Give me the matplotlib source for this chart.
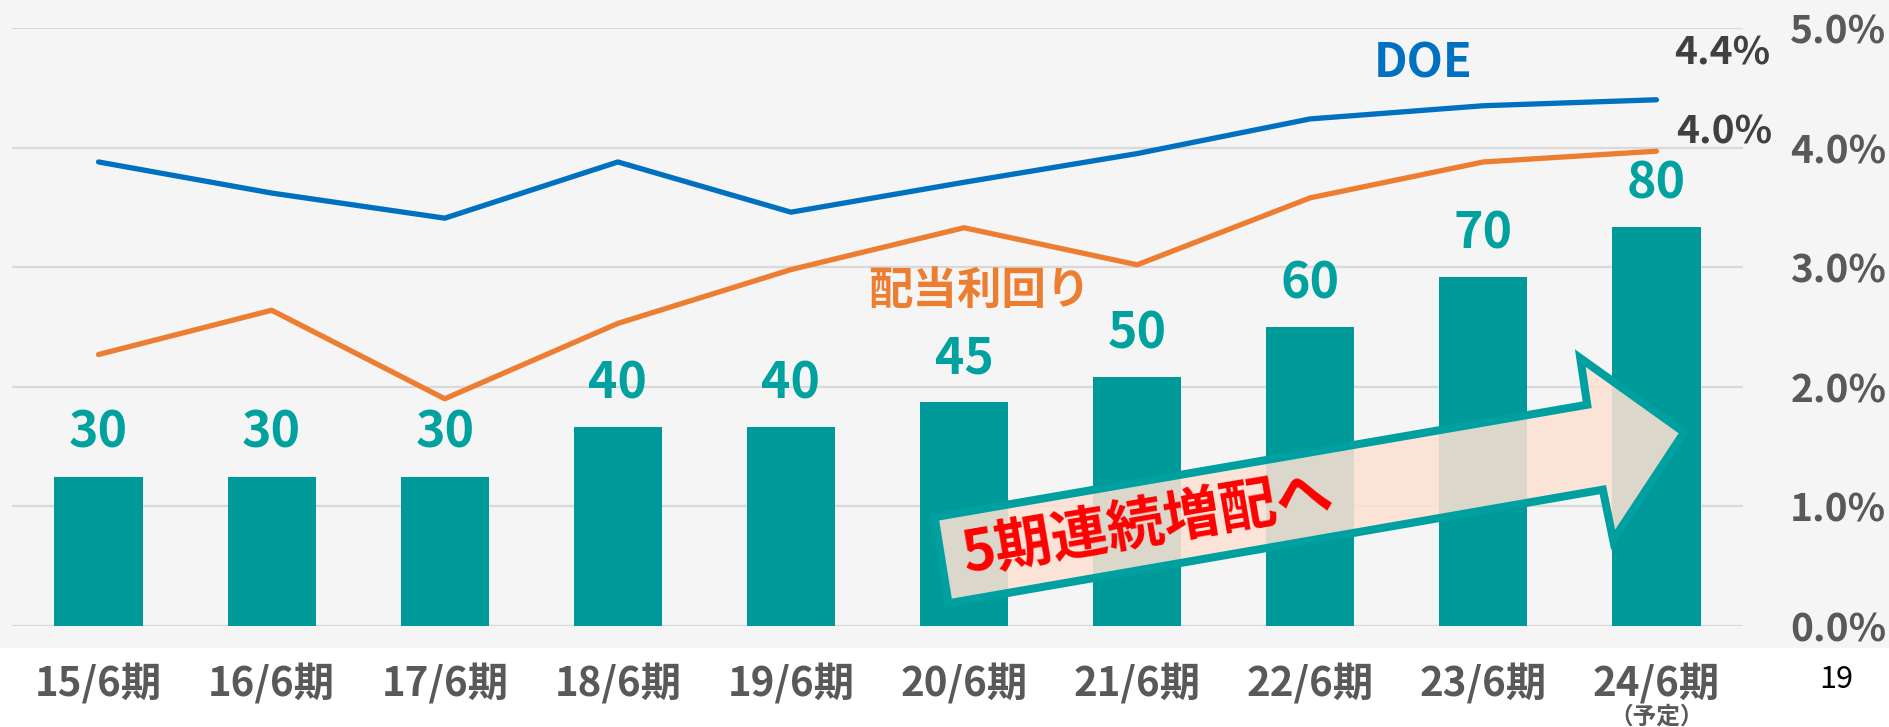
import matplotlib
matplotlib.use("Agg")
import matplotlib.pyplot as plt
import matplotlib.transforms as mtransforms
from matplotlib.patches import Polygon, Rectangle
import numpy as np

plt.rcParams['font.family'] = ['Noto Sans CJK JP', 'DejaVu Sans']

# data
periods = ['15/6期', '16/6期', '17/6期', '18/6期', '19/6期',
           '20/6期', '21/6期', '22/6期', '23/6期', '24/6期']
dividend = [30, 30, 30, 40, 40, 45, 50, 60, 70, 80]            # yen per share
doe = [3.88, 3.62, 3.41, 3.88, 3.46, 3.71, 3.95, 4.24, 4.35, 4.40]      # %
div_yield = [2.27, 2.64, 1.90, 2.53, 2.98, 3.33, 3.02, 3.58, 3.88, 3.97]  # %
pct_ticks = [0, 1, 2, 3, 4, 5]

W, H = 1889, 727
fig = plt.figure(figsize=(W / 100, H / 100), dpi=100)
fig.patch.set_facecolor('white')

# light grey panel behind the chart
fig.add_artist(Rectangle((0, 1 - 648 / H), 1, 648 / H, transform=fig.transFigure,
                         facecolor='#f5f5f5', edgecolor='none', zorder=0))

ax = fig.add_axes([12 / W, 1 - 626 / H, (1743 - 12) / W, (626 - 28) / H])
ax.set_facecolor('none')
x = np.arange(len(periods))

# bars (left scale, hidden)
ax.bar(x, dividend, width=0.51, color='#009999', zorder=2)
ax.set_xlim(-0.5, 9.5)
ax.set_ylim(0, 120)
ax.set_yticks(np.arange(0, 121, 24))
ax.grid(axis='y', color='#d9d9d9', linewidth=1.6)
ax.set_axisbelow(True)
ax.tick_params(axis='y', left=False, right=False, labelleft=False, length=0)
ax.set_xticks(x)
ax.set_xticklabels(periods, fontsize=29, fontweight='bold', color='#595959')
ax.tick_params(axis='x', length=0, pad=28)
for s in ax.spines.values():
    s.set_visible(False)

for xi, v in zip(x, dividend):
    ax.annotate(str(v), (xi, v), xytext=(0, 31), textcoords='offset points',
                ha='center', va='center', fontsize=36, fontweight='bold',
                color='#00A19F')

# percent axis on the right
ax2 = ax.twinx()
ax2.set_ylim(0, 5)
ax2.set_yticks(pct_ticks)
ax2.set_yticklabels([f'{t:.1f}%' for t in pct_ticks], fontsize=28,
                    fontweight='bold', color='#595959')
ax2.tick_params(axis='y', left=False, right=False, length=0, pad=34)
for s in ax2.spines.values():
    s.set_visible(False)

ax2.plot(x, doe, color='#0070C0', linewidth=3.8, solid_capstyle='round', zorder=3)
ax2.plot(x, div_yield, color='#ED7D31', linewidth=3.8, solid_capstyle='round', zorder=3)

ax2.text(7.65, 4.70, 'DOE', color='#0070C0', fontsize=34, fontweight='bold',
         ha='center', va='center')
ax2.text(5.09, 2.80, '配当利回り', color='#ED7D31', fontsize=32, fontweight='bold',
         ha='center', va='center')
ax2.text(9.38, 4.79, f'{doe[-1]:.1f}%', color='#404040', fontsize=28,
         fontweight='bold', ha='center', va='center')
ax2.text(9.39, 4.13, f'{div_yield[-1]:.1f}%', color='#404040', fontsize=28,
         fontweight='bold', ha='center', va='center')

# big arrow "5期連続増配へ"
arrow_pts = [(4.91, 0.19), (4.83, 0.91), (8.60, 1.85), (8.56, 2.24),
             (9.16, 1.62), (8.75, 0.72), (8.69, 1.14)]
ax2.add_patch(Polygon(arrow_pts, closed=True,
                      facecolor=(253 / 255, 225 / 255, 211 / 255, 0.87),
                      edgecolor='#00A0A0', linewidth=5.8, joinstyle='miter', zorder=1))
ax2.text(6.06, 0.85, '5期連続増配へ', color='#FF0000', fontsize=41, fontweight='bold',
         rotation=9.7, rotation_mode='anchor', ha='center', va='center', zorder=4)

# "(予定)" under the last period
trans = mtransforms.blended_transform_factory(ax.transData, fig.transFigure)
ax.text(9, 1 - 717 / H, '（予定）', transform=trans, fontsize=17, fontweight='bold',
        color='#595959', ha='center', va='center')

# page number
fig.text(1836 / W, 1 - 680 / H, '19', fontsize=22, color='black',
         ha='center', va='center')

fig.savefig('out.png', dpi=100)
